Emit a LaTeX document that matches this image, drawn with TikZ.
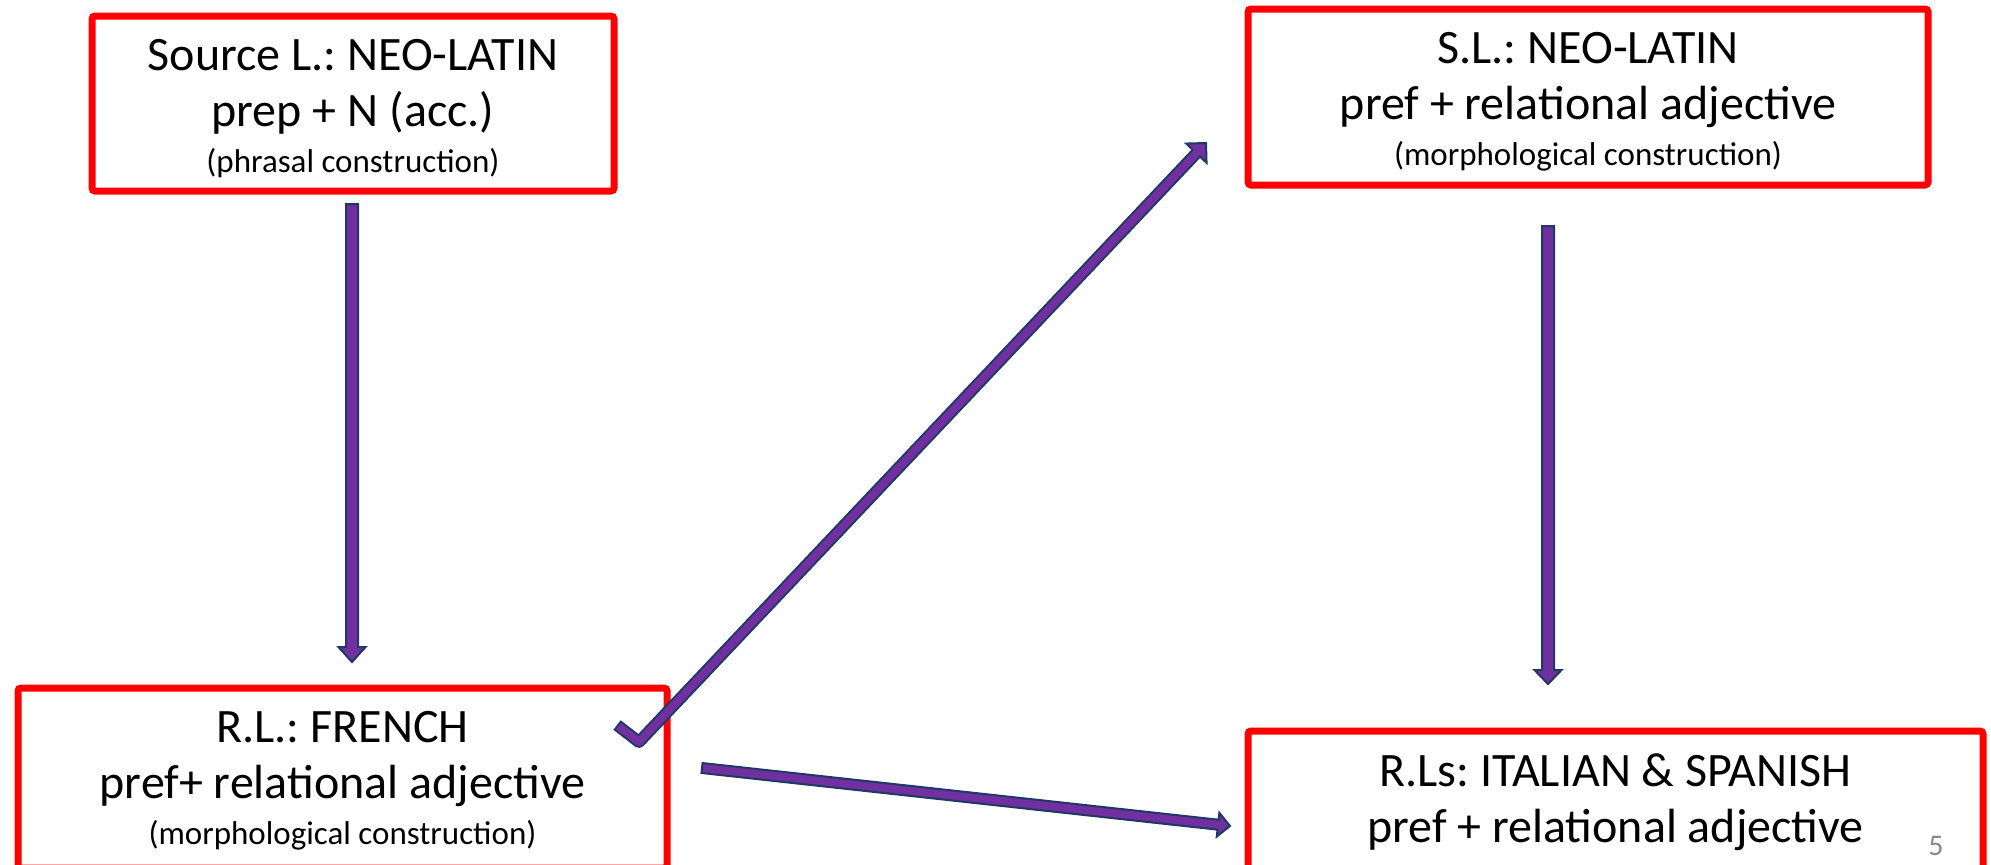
\documentclass[tikz,border=0pt]{standalone}
\usepackage{fontspec}
\setmainfont{Carlito}
\usetikzlibrary{calc}
\frenchspacing
\definecolor{boxred}{HTML}{FF0000}
\definecolor{arrpurple}{HTML}{7030A0}
\definecolor{arrnavy}{HTML}{203864}
\definecolor{pagegray}{HTML}{898989}
\newcommand\fmain{\fontsize{24}{28}\selectfont}
\newcommand\fsmall{\fontsize{16.5}{19}\selectfont}
\newcommand\lineat[2]{\hbox to \hsize{\hfil\vrule height #1 width 0pt\smash{#2}\hfil}}
\newcommand\boxbody[3]{\vbox to #2{\hsize=#1\offinterlineskip #3\vfil}}
\newcommand\blockarrow[5]{%
  \path[arrowbody] let \p1=($(#2)-(#1)$), \n1={atan2(\y1,\x1)}, \n2={veclen(\x1,\y1)} in
    [shift={(#1)}, rotate=\n1]
    (0pt,-#3) -- ({\n2*1pt-#5},-#3) -- ({\n2*1pt-#5},-#4) -- ({\n2*1pt},0pt)
    -- ({\n2*1pt-#5},#4) -- ({\n2*1pt-#5},#3) -- (0pt,#3) -- cycle;}
\newcommand\arrowhead[4]{%
  \path[arrowbody] let \p1=($(#2)-(#1)$), \n1={atan2(\y1,\x1)} in
    [shift={(#2)}, rotate=\n1] (0pt,0pt) -- (-#4,#3) -- (-#4,-#3) -- cycle;}
\tikzset{
  redbox/.style={rectangle, draw=boxred, line width=3.5pt, rounded corners=1.5pt,
    inner sep=0pt, outer sep=0pt, anchor=north west},
  arrowbody/.style={fill=arrpurple, draw=arrnavy, line width=1pt, line join=miter},
}
\begin{document}
\begin{tikzpicture}[x=0.5pt, y=-0.5pt]
\useasboundingbox (0,0) rectangle (1991,864);
\clip (0,0) rectangle (1991,864);
\fill[white] (0,0) rectangle (1991,864);

\node[redbox] (b1) at (92,16) {\boxbody{261pt}{87.5pt}{%
  \lineat{27pt}{\fmain Source L.: NEO-LATIN}%
  \lineat{28pt}{\fmain prep + N (acc.)}%
  \lineat{23pt}{\fsmall (phrasal construction)}}};
\node[redbox] (b2) at (1248,9) {\boxbody{340pt}{88pt}{%
  \lineat{27pt}{\fmain S.L.: NEO-LATIN}%
  \lineat{28pt}{\fmain pref + relational adjective}%
  \lineat{23pt}{\fsmall (morphological construction)}}};
\node[redbox] (b3) at (18,688) {\boxbody{324.5pt}{90pt}{%
  \lineat{27pt}{\fmain R.L.: FRENCH}%
  \lineat{28pt}{\fmain pref+ relational adjective}%
  \lineat{23pt}{\fsmall (morphological construction)}}};
\node[redbox] (b4) at (1248,731) {\boxbody{367.5pt}{90pt}{%
  \lineat{27.5pt}{\fmain R.Ls: ITALIAN \& SPANISH}%
  \lineat{28pt}{\fmain pref + relational adjective}}};

\node[anchor=base west, text=pagegray, font=\fontsize{15}{17}\selectfont, inner sep=0pt] (pg) at (1928,855) {5};

% vertical arrows
\coordinate (a1s) at ($(b1.south)+(-1,13)$);
\coordinate (a1e) at ($(a1s |- b3.north)+(0,-26)$);
\blockarrow{a1s}{a1e}{3pt}{6.75pt}{7.5pt}
\coordinate (a2s) at ($(b2.south)+(-40,41)$);
\coordinate (a2e) at ($(a2s |- b4.north)+(0,-47)$);
\blockarrow{a2s}{a2e}{3pt}{6.75pt}{7pt}
% French -> Italian & Spanish
\coordinate (a3s) at ($(b3.north east)+(35,80)$);
\coordinate (a3e) at ($(b4.north west)+(-18,95)$);
\blockarrow{a3s}{a3e}{2.5pt}{6pt}{6pt}
% check-shaped arrow French -> S.L.
\coordinate (ct) at ($(b3.north east)+(-50,37)$);
\coordinate (cv) at ($(b3.north east)+(-28,54)$);
\coordinate (ctip) at ($(b2.north west)+(-42,134)$);
\coordinate (cbase) at ($(ctip)!7pt!(cv)$);
\coordinate (cbase2) at ($(ctip)!6.3pt!(cv)$);
\draw[arrnavy, line width=6pt, line join=round] (ct) -- (cv) -- (cbase);
\arrowhead{cv}{ctip}{7pt}{7pt}
\draw[arrpurple, line width=4pt, line join=round, shorten <=1pt] (ct) -- (cv) -- (cbase2);
\end{tikzpicture}
\end{document}
